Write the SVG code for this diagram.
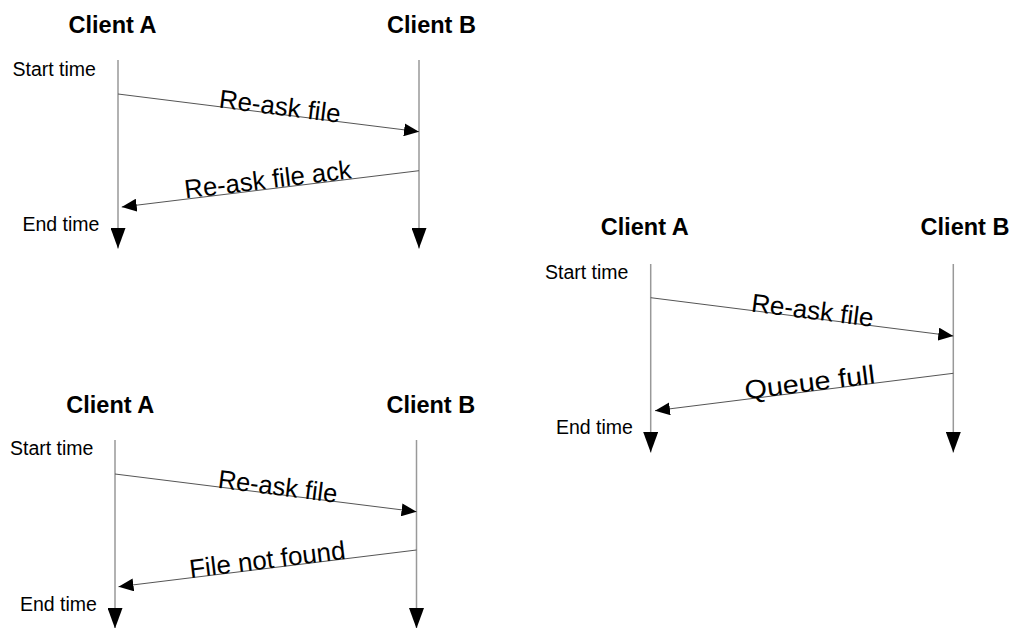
<svg xmlns="http://www.w3.org/2000/svg" width="1011" height="628" viewBox="0 0 1011 628">
  <style>
    .title { font-family: "Liberation Sans", Arial, sans-serif; font-weight: bold; font-size: 23.5px; fill: #000; text-anchor: middle; }
    .time { font-family: "Liberation Sans", Arial, sans-serif; font-size: 19.5px; fill: #000; }
    .msg-label { font-family: "Liberation Sans", Arial, sans-serif; font-size: 26px; fill: #000; text-anchor: middle; }
    .lifeline { stroke: #999; stroke-width: 1.5; fill: none; marker-end: url(#lifeEnd); }
    .msg { stroke: #555; stroke-width: 1; fill: none; marker-end: url(#msgHead); }
  </style>
  <defs>
    <marker id="msgHead" markerUnits="userSpaceOnUse" markerWidth="15" markerHeight="13" refX="15" refY="6.5" orient="auto">
      <path d="M0,0 L15,6.5 L0,13 z" fill="#000"/>
    </marker>
    <marker id="lifeEnd" markerUnits="userSpaceOnUse" markerWidth="21" markerHeight="15" refX="20.5" refY="7.5" orient="auto">
      <path d="M0,0 L20.5,7.5 L0,15 z" fill="#000"/>
    </marker>
  </defs>
  <rect width="1011" height="628" fill="#fff"/>

  <!-- Sequence 1: re-ask acknowledged -->
  <g id="seq-ack">
    <g id="ack-clientA">
      <text class="title" x="112.5" y="33">Client A</text>
      <line class="lifeline" x1="118" y1="60" x2="118" y2="248.5"/>
    </g>
    <g id="ack-clientB">
      <text class="title" x="431.5" y="33">Client B</text>
      <line class="lifeline" x1="419" y1="60" x2="419" y2="248.5"/>
    </g>
    <g id="ack-start"><text class="time" x="12.5" y="76">Start time</text></g>
    <g id="ack-end"><text class="time" x="22.5" y="231">End time</text></g>
    <g id="ack-connectors">
      <line class="msg" x1="118" y1="94" x2="419" y2="131.7"/>
      <text class="msg-label" transform="translate(279,114.2) rotate(7.14)" x="0" y="1" textLength="122" lengthAdjust="spacingAndGlyphs">Re-ask file</text>
      <line class="msg" x1="419" y1="170.7" x2="121.7" y2="207"/>
      <text class="msg-label" transform="translate(269,188.8) rotate(-6.88)" x="0" y="-0.5" textLength="168" lengthAdjust="spacingAndGlyphs">Re-ask file ack</text>
    </g>
  </g>

  <!-- Sequence 2: file not found -->
  <g id="seq-notfound">
    <g id="nf-clientA">
      <text class="title" x="110.3" y="413">Client A</text>
      <line class="lifeline" x1="115" y1="440" x2="115" y2="628.5"/>
    </g>
    <g id="nf-clientB">
      <text class="title" x="430.8" y="413">Client B</text>
      <line class="lifeline" x1="416.5" y1="440" x2="416.5" y2="628.5"/>
    </g>
    <g id="nf-start"><text class="time" x="10" y="455">Start time</text></g>
    <g id="nf-end"><text class="time" x="20" y="610.5">End time</text></g>
    <g id="nf-connectors">
      <line class="msg" x1="115" y1="474" x2="416.5" y2="511.7"/>
      <text class="msg-label" transform="translate(276.8,494.2) rotate(7.13)" x="0" y="1" textLength="120" lengthAdjust="spacingAndGlyphs">Re-ask file</text>
      <line class="msg" x1="416.5" y1="550" x2="118.5" y2="586.7"/>
      <text class="msg-label" transform="translate(268.3,568.3) rotate(-7.02)" x="0" y="0" textLength="157" lengthAdjust="spacingAndGlyphs">File not found</text>
    </g>
  </g>

  <!-- Sequence 3: queue full -->
  <g id="seq-queuefull">
    <g id="qf-clientA">
      <text class="title" x="644.7" y="235">Client A</text>
      <line class="lifeline" x1="650.7" y1="264" x2="650.7" y2="452.5"/>
    </g>
    <g id="qf-clientB">
      <text class="title" x="965" y="235">Client B</text>
      <line class="lifeline" x1="953.3" y1="264" x2="953.3" y2="452.5"/>
    </g>
    <g id="qf-start"><text class="time" x="545" y="279">Start time</text></g>
    <g id="qf-end"><text class="time" x="556" y="434">End time</text></g>
    <g id="qf-connectors">
      <line class="msg" x1="650.7" y1="297.7" x2="953.3" y2="336"/>
      <text class="msg-label" transform="translate(811.5,318.1) rotate(7.21)" x="0" y="1" textLength="123" lengthAdjust="spacingAndGlyphs">Re-ask file</text>
      <line class="msg" x1="953.3" y1="373.3" x2="655" y2="410.7"/>
      <text class="msg-label" transform="translate(810.8,391.2) rotate(-7.15)" x="0" y="0" textLength="131" lengthAdjust="spacingAndGlyphs">Queue full</text>
    </g>
  </g>
</svg>
